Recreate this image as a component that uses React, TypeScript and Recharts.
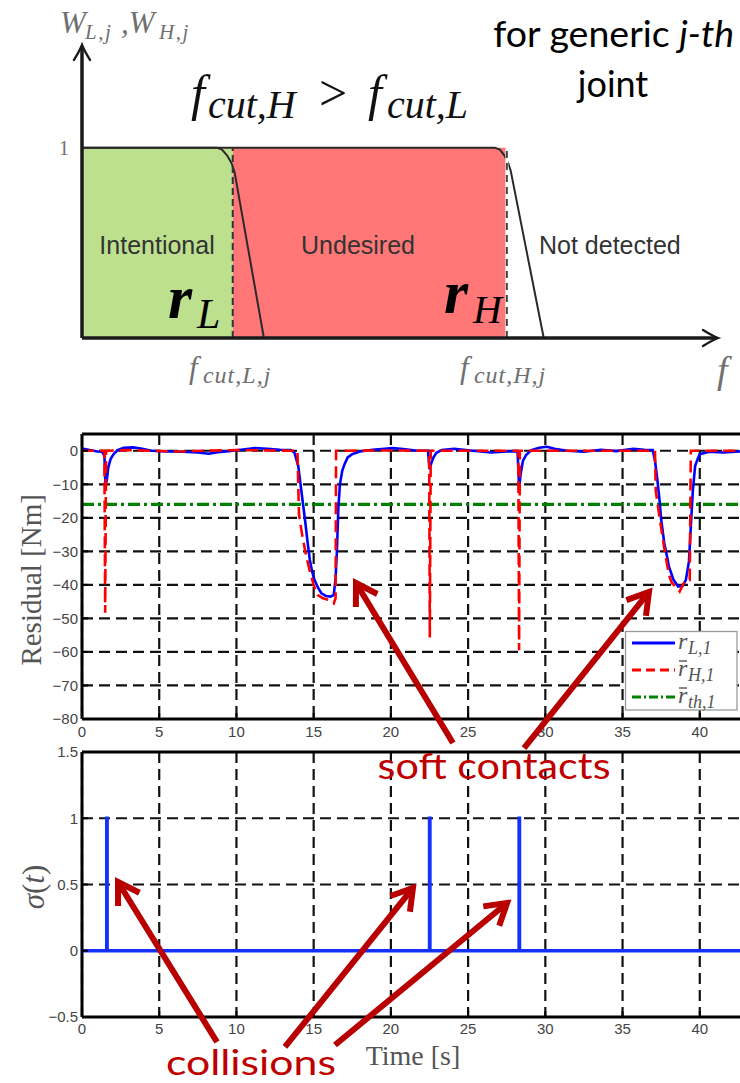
import React from 'react';
import {
  ComposedChart,
  Line,
  XAxis,
  YAxis,
  CartesianGrid,
  ReferenceLine,
  ReferenceArea,
  ReferenceDot,
  Legend,
} from 'recharts';

// ================= Top diagram: filter weights vs frequency =================
const wlCurve: [number, number][] = [
  [0, 1], [21.2, 1], [22.0, 0.99], [22.8, 0.96], [23.5, 0.92], [24.0, 0.87], [28.6, 0],
];
const whCurve: [number, number][] = [
  [0, 1], [64.9, 1], [65.7, 0.99], [66.4, 0.96], [67.0, 0.92], [67.4, 0.88], [72.6, 0],
];
const fCutL = 23.7;
const fCutH = 66.8;
const bandLabels = ['Intentional', 'Undesired', 'Not detected'];
const bandCenters = [11.8, 43.4, 83.0];

// ================= Residual chart =================
const timeTicks = [0, 5, 10, 15, 20, 25, 30, 35, 40];
const residualTicks = [-80, -70, -60, -50, -40, -30, -20, -10, 0];
const rL1: [number, number][] = [
  [0, 0.7], [0.5, 0.2], [1.0, -0.2], [1.3, -0.3], [1.45, -1.5], [1.52, -10], [1.6, -9],
  [1.7, -5], [1.85, -2.5], [2.05, -1], [2.3, 0.2], [2.7, 0.9], [3.3, 1.0], [3.9, 0.6],
  [4.5, 0.0], [5.5, -0.2], [6.5, -0.3], [7.5, -0.5], [8.2, -0.9], [8.8, -0.4], [9.5, -0.1],
  [10.3, 0.3], [11.2, 0.8], [12.0, 0.6], [12.8, 0.3], [13.5, 0.2], [13.75, -0.5], [14.0, -4.5],
  [14.15, -10], [14.3, -15.5], [14.45, -21], [14.6, -27], [14.75, -32.5], [14.9, -36],
  [15.05, -38.5], [15.3, -41], [15.5, -42.5], [15.8, -43.3], [16.1, -43.5], [16.3, -43],
  [16.42, -38], [16.5, -30.5], [16.6, -17], [16.7, -10], [16.85, -6], [17.0, -4], [17.2, -2],
  [17.5, -1], [18.0, -0.2], [18.8, 0.3], [19.6, 0.6], [20.1, 0.8], [20.8, 0.5], [21.6, 0.1],
  [22.4, 0.0], [22.5, -5.5], [22.6, -4], [22.75, -2], [22.95, -0.6], [23.3, 0.2], [24.1, 0.6],
  [25.3, 0.0], [26.5, -0.5], [27.5, -0.2], [28.2, -0.1], [28.3, -11], [28.4, -7], [28.55, -3],
  [28.75, -1.3], [29.1, 0.2], [29.6, 0.9], [30.1, 1.2], [30.6, 0.6], [31.4, 0.0], [32.5, -0.3],
  [33.6, 0.3], [34.6, -0.1], [35.7, 0.6], [36.4, 0.3], [36.95, 0.2], [37.1, -3], [37.25, -8.5],
  [37.4, -15], [37.5, -20.5], [37.7, -27.5], [37.9, -32], [38.0, -34.5], [38.3, -38.5],
  [38.6, -40.5], [38.9, -40.3], [39.1, -38.5], [39.3, -33], [39.45, -20], [39.55, -12],
  [39.7, -4.5], [39.9, -2], [40.0, -1], [40.6, -0.3], [41.5, -0.5], [42.7, -0.2], [45, 0],
];
const rH1: [number, number][] = [
  [0, 0], [1.45, 0], [1.5, -48.3], [1.56, 0], [3, 0.2], [6, -0.2], [10, 0.2], [13.95, 0],
  [14.0, -10], [14.05, -19], [14.25, -25], [14.5, -31], [14.75, -36], [15.0, -40], [15.25, -43],
  [15.6, -44], [16.0, -44.5], [16.3, -45.5], [16.42, -44], [16.45, 0], [20, 0.1], [22.48, 0],
  [22.52, -55.7], [22.58, 0], [28.25, 0], [28.3, -59.5], [28.35, 0], [33, 0], [37.1, 0],
  [37.15, -12], [37.4, -20], [37.7, -29], [38.0, -37], [38.2, -39.5], [38.45, -40.5],
  [38.7, -42], [38.9, -40], [39.1, -38.5], [39.35, -38.5], [39.42, 0], [45, 0],
];
const rTh1: [number, number][] = [[0, -16], [45, -16]];
const legendEntries = [
  { sub: 'L,1', color: '#0000ff', dash: '', bar: false },
  { sub: 'H,1', color: '#ff0000', dash: '9 5', bar: true },
  { sub: 'th,1', color: '#008000', dash: '9 3 2 3', bar: true },
];

// ================= Sigma chart =================
const sigmaTicks = [-0.5, 0, 0.5, 1, 1.5];
const sigma: [number, number][] = [
  [0, 0], [1.6, 0], [1.6, 1], [1.63, 1], [1.63, 0], [22.5, 0], [22.5, 1], [22.53, 1],
  [22.53, 0], [28.3, 0], [28.3, 1], [28.33, 1], [28.33, 0], [45, 0],
];

// ================= Annotations (data coordinates: [tailX, tailY, tipX, tipY]) ====
const softContactArrows = [
  [24.02, -87.16, 17.74, -39.44],
  [28.62, -88.65, 36.71, -42.12],
];
const collisionArrows = [
  [8.74, -0.689, 2.33, 0.519],
  [13.14, -0.726, 21.43, 0.474],
  [16.38, -0.711, 27.52, 0.36],
];

const serif = '"Liberation Serif", "DejaVu Serif", serif';
const sans = '"Liberation Sans", Arial, sans-serif';
const callout = 'Lato, "Open Sans", sans-serif';
const annotRed = '#b80000';

const pts = (arr: [number, number][], kx: string, ky: string) =>
  arr.map(([x, y]) => ({ [kx]: x, [ky]: y }));

const minusFmt = (v: number) => (v < 0 ? '\u2212' + Math.abs(v) : String(v));

const chevronArrow = (color: string, w: number, head: number, spread: number) => (p: any) => {
  const { x1, y1, x2, y2 } = p;
  const a = Math.atan2(y2 - y1, x2 - x1);
  const b1 = a + Math.PI - spread;
  const b2 = a + Math.PI + spread;
  const hp = `${x2 + head * Math.cos(b1)},${y2 + head * Math.sin(b1)} ${x2},${y2} ${x2 + head * Math.cos(b2)},${y2 + head * Math.sin(b2)}`;
  return (
    <g>
      <line x1={x1} y1={y1} x2={x2} y2={y2} stroke={color} strokeWidth={w} />
      <polyline points={hp} fill="none" stroke={color} strokeWidth={w} strokeLinejoin="miter" />
    </g>
  );
};

const texArrow = (color: string, w: number, head: number, half: number) => (p: any) => {
  const { x1, y1, x2, y2 } = p;
  const a = Math.atan2(y2 - y1, x2 - x1);
  const dx = Math.cos(a), dy = Math.sin(a);
  const px = -dy, py = dx;
  const bx = x2 - dx * head, by = y2 - dy * head;
  const cx = x2 - dx * head * 0.35, cy = y2 - dy * head * 0.35;
  const d = `M${bx + px * half},${by + py * half} Q${cx + px * half * 0.25},${cy + py * half * 0.25} ${x2},${y2} Q${cx - px * half * 0.25},${cy - py * half * 0.25} ${bx - px * half},${by - py * half}`;
  return (
    <g>
      <line x1={x1} y1={y1} x2={x2 - dx * 1.5} y2={y2 - dy * 1.5} stroke={color} strokeWidth={w} />
      <path d={d} fill="none" stroke={color} strokeWidth={2.4} strokeLinecap="round" />
    </g>
  );
};

const at = (key: string, x: number, y: number, render: (cx: number, cy: number) => React.ReactElement) => (
  <ReferenceDot
    key={key}
    x={x}
    y={y}
    r={1}
    ifOverflow="visible"
    zIndex={2500}
    shape={(p: any) => render(p.cx, p.cy)}
  />
);

function TopChart() {
  const wl = pts(wlCurve, 'f', 'w');
  const wh = pts(whCurve, 'f', 'w');
  const gray = '#707070';
  return (
    <ComposedChart width={740} height={400} margin={{ top: 33.5, right: 22, bottom: 62, left: 82 }}>
      <XAxis type="number" dataKey="f" domain={[0, 100]} hide height={0} allowDataOverflow />
      <YAxis type="number" domain={[0, 1.6]} hide width={0} allowDataOverflow />
      <ReferenceArea x1={0} x2={fCutL} y1={0} y2={1} fill="#bde08f" fillOpacity={1} stroke="none" zIndex={50} />
      <ReferenceArea x1={fCutL} x2={fCutH} y1={0} y2={1} fill="#ff7777" fillOpacity={1} stroke="none" zIndex={50} />
      <ReferenceLine segment={[{ x: fCutH, y: 0 }, { x: fCutH, y: 1 }]} stroke="#ffffff" strokeWidth={3} ifOverflow="visible" zIndex={450} />
      <ReferenceLine segment={[{ x: fCutL, y: 0 }, { x: fCutL, y: 1 }]} stroke="#333" strokeWidth={2} strokeDasharray="7 4" ifOverflow="visible" zIndex={460} />
      <ReferenceLine segment={[{ x: fCutH, y: 0 }, { x: fCutH, y: 1 }]} stroke="#444" strokeWidth={2} strokeDasharray="7 5" ifOverflow="visible" zIndex={460} />
      <Line data={wh} dataKey="w" type="linear" stroke="#2a2a2a" strokeWidth={2} dot={false} isAnimationActive={false} />
      <Line data={wl} dataKey="w" type="linear" stroke="#2a2a2a" strokeWidth={2} dot={false} isAnimationActive={false} />
      <ReferenceLine segment={[{ x: 0, y: 0 }, { x: 100, y: 0 }]} ifOverflow="visible" zIndex={500} shape={texArrow('#1a1a1a', 3.5, 15, 8)} />
      <ReferenceLine segment={[{ x: 0, y: 0 }, { x: 0, y: 1.54 }]} ifOverflow="visible" zIndex={500} shape={texArrow('#1a1a1a', 3.5, 15, 8)} />
      {at('wlabel', -3.46, 1.603, (x, y) => (
        <text fontFamily={serif} fontStyle="italic" fill={gray}>
          <tspan x={x} y={y} fontSize={31}>W</tspan>
          <tspan x={x + 25} y={y + 6} fontSize={21} letterSpacing={1.5}>L,j</tspan>
          <tspan x={x + 61} y={y} fontSize={31}>,W</tspan>
          <tspan x={x + 99} y={y + 6} fontSize={21} letterSpacing={1.5}>H,j</tspan>
        </text>
      ))}
      {at('one', -2.83, 1, (x, y) => (
        <text x={x} y={y} fontFamily={serif} fontSize={20} fill={gray} textAnchor="middle" dominantBaseline="central">1</text>
      ))}
      {at('cmp', 17.14, 1.198, (x, y) => (
        <text fontFamily={serif} fill="#111">
          <tspan x={x} y={y} fontSize={50} fontStyle="italic">f</tspan>
          <tspan x={x + 17} y={y + 8} fontSize={40} fontStyle="italic">cut,H</tspan>
          <tspan x={x + 128} y={y} fontSize={50}>&gt;</tspan>
          <tspan x={x + 177} y={y} fontSize={50} fontStyle="italic">f</tspan>
          <tspan x={x + 196} y={y + 8} fontSize={40} fontStyle="italic">cut,L</tspan>
        </text>
      ))}
      {at('generic', 83.6, 1.529, (x, y) => (
        <text x={x} y={y} fontFamily={callout} fontSize={36} textLength={241} lengthAdjust="spacingAndGlyphs" fill="#000" textAnchor="middle">
          for generic <tspan fontStyle="italic">j-th</tspan>
        </text>
      ))}
      {at('joint', 83.5, 1.266, (x, y) => (
        <text x={x} y={y} fontFamily={callout} fontSize={36} fill="#000" textAnchor="middle">joint</text>
      ))}
      {bandLabels.map((lab, i) =>
        at('band' + i, bandCenters[i], 0.489, (x, y) => (
          <text x={x} y={y} fontFamily={sans} fontSize={25} fill="#333" textAnchor="middle" dominantBaseline="central">{lab}</text>
        )),
      )}
      {at('rL', 13.52, 0.105, (x, y) => (
        <text fontFamily={serif} fill="#000">
          <tspan x={x} y={y} fontSize={62} fontWeight="bold" fontStyle="italic">r</tspan>
          <tspan x={x + 29} y={y + 10} fontSize={42} fontStyle="italic">L</tspan>
        </text>
      ))}
      {at('rH', 56.92, 0.131, (x, y) => (
        <text fontFamily={serif} fill="#000">
          <tspan x={x} y={y} fontSize={62} fontWeight="bold" fontStyle="italic">r</tspan>
          <tspan x={x + 29} y={y + 10} fontSize={40} fontStyle="italic">H</tspan>
        </text>
      ))}
      {[['cutL', 16.82, 'cut,L,j'], ['cutH', 59.43, 'cut,H,j']].map(([k, f, s]) =>
        at(k as string, f as number, -0.21, (x, y) => (
          <text fontFamily={serif} fontStyle="italic" fill={gray}>
            <tspan x={x} y={y} fontSize={31}>f</tspan>
            <tspan x={x + 14} y={y + 5} fontSize={24} letterSpacing={1}>{s as string}</tspan>
          </text>
        )),
      )}
      {at('fax', 99.84, -0.236, (x, y) => (
        <text x={x} y={y} fontFamily={serif} fontStyle="italic" fontSize={38} fill={gray}>f</text>
      ))}
    </ComposedChart>
  );
}

const renderLegend = () => (
  <svg width={113} height={80} style={{ display: 'block', overflow: 'visible' }}>
    <rect x={0.5} y={0.5} width={111.5} height={78.5} fill="#fff" stroke="#9a9a9a" strokeWidth={1.3} />
    {legendEntries.map((e, i) => {
      const cy = 12 + i * 27;
      return (
        <g key={i}>
          <line x1={7} x2={50} y1={cy} y2={cy} stroke={e.color} strokeWidth={3} strokeDasharray={e.dash || undefined} />
          <text fontFamily={serif} fontStyle="italic" fill="#555">
            <tspan x={53} y={cy + 6} fontSize={24}>r</tspan>
            <tspan x={63} y={cy + 11} fontSize={18}>{e.sub}</tspan>
          </text>
          {e.bar && <line x1={54} x2={62} y1={cy - 9} y2={cy - 9} stroke="#555" strokeWidth={1.4} />}
        </g>
      );
    })}
  </svg>
);

function ResidualChart() {
  const tickStyle = { fontSize: 15, fill: '#444', fontFamily: sans };
  return (
    <ComposedChart width={800} height={370} margin={{ top: 34, right: 23, bottom: 21, left: 22 }}>
      <CartesianGrid stroke="#111" strokeWidth={2.2} strokeDasharray="11 6" />
      <XAxis
        type="number" dataKey="t" domain={[0, 45]} ticks={timeTicks} interval={0} height={30}
        tickSize={-6} tickMargin={13} allowDataOverflow
        axisLine={{ stroke: '#000', strokeWidth: 3 }} tickLine={{ stroke: '#000', strokeWidth: 2 }} tick={tickStyle}
      />
      <YAxis
        type="number" domain={[-80, 5]} ticks={residualTicks} interval={0} width={60}
        tickSize={-6} tickMargin={10} allowDataOverflow tickFormatter={minusFmt}
        axisLine={{ stroke: '#000', strokeWidth: 3 }} tickLine={{ stroke: '#000', strokeWidth: 2 }} tick={tickStyle}
      />
      <Line data={pts(rTh1, 't', 'v')} dataKey="v" type="linear" stroke="#008000" strokeWidth={3.2} strokeDasharray="12 4 3 4" dot={false} isAnimationActive={false} />
      <Line data={pts(rL1, 't', 'v')} dataKey="v" type="linear" stroke="#0000ff" strokeWidth={2.6} dot={false} isAnimationActive={false} />
      <Line data={pts(rH1, 't', 'v')} dataKey="v" type="linear" stroke="#ff0000" strokeWidth={2.6} strokeDasharray="12 6" dot={false} isAnimationActive={false} />
      <ReferenceLine y={5} stroke="#000" strokeWidth={3} ifOverflow="visible" zIndex={600} />
      <Legend
        layout="vertical" align="center" verticalAlign="middle" content={renderLegend}
        wrapperStyle={{ position: 'absolute', left: 625, top: 231, width: 113, height: 80, margin: 0, padding: 0 }}
      />
      {at('ylab', -3.3, -38.5, (x, y) => (
        <text x={x} y={y} fontFamily={serif} fontSize={29} fill="#555" textAnchor="middle" dominantBaseline="central" transform={`rotate(-90 ${x} ${y})`}>Residual [Nm]</text>
      ))}
      {softContactArrows.map((a, i) => (
        <ReferenceLine key={'sa' + i} segment={[{ x: a[0], y: a[1] }, { x: a[2], y: a[3] }]} ifOverflow="visible" zIndex={3000} shape={chevronArrow(annotRed, 6, 24, 0.55)} />
      ))}
    </ComposedChart>
  );
}

function SigmaChart() {
  const tickStyle = { fontSize: 15, fill: '#444', fontFamily: sans };
  return (
    <ComposedChart width={800} height={363} margin={{ top: 32, right: 23, bottom: 26, left: 22 }}>
      <CartesianGrid stroke="#111" strokeWidth={2.2} strokeDasharray="11 6" />
      <XAxis
        type="number" dataKey="t" domain={[0, 45]} ticks={timeTicks} interval={0} height={40}
        tickSize={-6} tickMargin={12} allowDataOverflow
        axisLine={{ stroke: '#000', strokeWidth: 3 }} tickLine={{ stroke: '#000', strokeWidth: 2 }} tick={tickStyle}
      />
      <YAxis
        type="number" domain={[-0.5, 1.5]} ticks={sigmaTicks} interval={0} width={60}
        tickSize={-6} tickMargin={10} allowDataOverflow tickFormatter={minusFmt}
        axisLine={{ stroke: '#000', strokeWidth: 3 }} tickLine={{ stroke: '#000', strokeWidth: 2 }} tick={tickStyle}
      />
      <Line data={pts(sigma, 't', 's')} dataKey="s" type="linear" stroke="#1430ff" strokeWidth={3.4} dot={false} isAnimationActive={false} />
      <ReferenceLine y={1.5} stroke="#000" strokeWidth={3} ifOverflow="visible" zIndex={600} />
      {at('slab', -3.17, 0.481, (x, y) => (
        <text x={x} y={y} fontFamily={serif} fontSize={31} fill="#555" textAnchor="middle" dominantBaseline="central" transform={`rotate(-90 ${x} ${y})`}>
          <tspan fontStyle="italic">σ</tspan>(<tspan fontStyle="italic">t</tspan>)
        </text>
      ))}
      {at('tlab', 21.43, -0.794, (x, y) => (
        <text x={x} y={y} fontFamily={serif} fontSize={28} fill="#555" textAnchor="middle" dominantBaseline="central">Time [s]</text>
      ))}
      {at('soft', 26.68, 1.296, (x, y) => (
        <text x={x} y={y} fontFamily={callout} fontSize={37} textLength={233} lengthAdjust="spacingAndGlyphs" fill="#c00000" textAnchor="middle">soft contacts</text>
      ))}
      {at('coll', 10.94, -0.936, (x, y) => (
        <text x={x} y={y} fontFamily={callout} fontSize={34} textLength={170} lengthAdjust="spacingAndGlyphs" fill="#c00000" textAnchor="middle">collisions</text>
      ))}
      {collisionArrows.map((a, i) => (
        <ReferenceLine key={'ca' + i} segment={[{ x: a[0], y: a[1] }, { x: a[2], y: a[3] }]} ifOverflow="visible" zIndex={3000} shape={chevronArrow(annotRed, 6, 24, 0.55)} />
      ))}
    </ComposedChart>
  );
}

export default function App() {
  return (
    <div style={{ position: 'absolute', left: 0, top: 0, width: 740, height: 1083, overflow: 'hidden', background: '#fff' }}>
      <div style={{ position: 'absolute', left: 0, top: 0 }}>
        <TopChart />
      </div>
      <div style={{ position: 'absolute', left: 0, top: 400 }}>
        <ResidualChart />
      </div>
      <div style={{ position: 'absolute', left: 0, top: 720 }}>
        <SigmaChart />
      </div>
    </div>
  );
}
